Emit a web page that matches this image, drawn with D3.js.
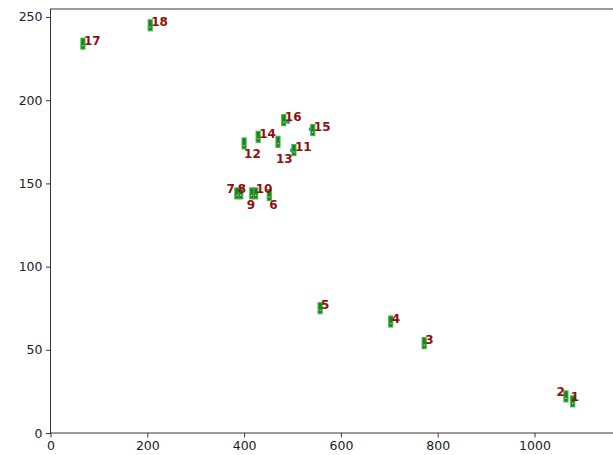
<!DOCTYPE html>
<html>
<head>
<meta charset="utf-8">
<script src="https://cdn.jsdelivr.net/npm/d3@7"></script>
<style>
  html, body { margin: 0; padding: 0; background: #fff; overflow: hidden; }
  svg { display: block; font-family: "DejaVu Sans", sans-serif; }
</style>
</head>
<body>
<svg id="chart" width="613" height="455"></svg>
<script>
// Point labels and their coordinates
const labels = ["1", "2", "3", "4", "5", "6", "7", "8", "9", "10", "11", "12", "13", "14", "15", "16", "17", "18"];
const xValues = [1079, 1065, 772, 703, 557, 452, 385, 393, 416, 424, 503, 400, 470, 429, 542, 482, 67, 206];
const yValues = [19, 22, 54, 67, 75, 143, 144, 144, 144, 144, 170, 174, 175, 178, 182, 188, 234, 245];

// Secondary points that peek out beside their boxes
const dotLabels = ["11", "15", "16"];
const dotX = [499, 538, 491];
const dotY = [170, 182.5, 187];

// Axis ticks
const xTicks = [0, 200, 400, 600, 800, 1000];
const yTicks = [0, 50, 100, 150, 200, 250];

// Label placement: [dx, dy, anchor] in pixels relative to each point
const labelPlacement = {
  "2": [-1, 0, "end"], "7": [-2, 0, "end"], "8": [-3, 0, "start"],
  "9": [-5, 16, "start"], "6": [0, 14, "start"], "10": [0, 0, "start"],
  "12": [0, 15, "start"], "13": [-2, 21, "start"], "1": [-2, 0, "start"]
};

const margin = { left: 50.5, top: 9, bottom: 433 };
const x = d3.scaleLinear().domain([0, 1200]).range([margin.left, margin.left + 1200 * 0.484]);
const y = d3.scaleLinear().domain([0, 254.8]).range([margin.bottom, margin.top]);

const svg = d3.select("#chart");

// Frame
svg.append("rect")
  .attr("x", margin.left).attr("y", margin.top)
  .attr("width", x(1200) - margin.left).attr("height", margin.bottom - margin.top)
  .attr("fill", "none").attr("stroke", "#222").attr("stroke-width", 0.9);

const xAxis = svg.append("g")
  .attr("transform", `translate(0,${margin.bottom})`)
  .call(d3.axisBottom(x).tickValues(xTicks).tickFormat(d3.format("d")).tickSizeOuter(0).tickSize(4.5).tickPadding(3.5));
const yAxis = svg.append("g")
  .attr("transform", `translate(${margin.left},0)`)
  .call(d3.axisLeft(y).tickValues(yTicks).tickFormat(d3.format("d")).tickSizeOuter(0).tickSize(4.5).tickPadding(3.5));
[xAxis, yAxis].forEach(g => {
  g.select(".domain").remove();
  g.selectAll(".tick line").attr("stroke", "#222").attr("stroke-width", 0.9);
  g.selectAll(".tick text").attr("fill", "#222").style("font-size", "12.5px").style("font-family", "DejaVu Sans, sans-serif");
});

const points = labels.map((l, i) => ({ label: l, x: xValues[i], y: yValues[i] }));
const dots = dotLabels.map((l, i) => ({ label: l, x: dotX[i], y: dotY[i] }));

// Blue points underneath
svg.append("g").selectAll("circle").data(dots).join("circle")
  .attr("cx", d => x(d.x)).attr("cy", d => y(d.y)).attr("r", 2.2)
  .attr("fill", "#1f77b4").attr("opacity", 0.85);

// Green boxes
const boxW = 4, boxH = 11;
const boxes = svg.append("g").selectAll("g").data(points).join("g")
  .attr("transform", d => `translate(${x(d.x)},${y(d.y)})`);
boxes.append("rect")
  .attr("x", -boxW / 2).attr("y", -boxH / 2).attr("width", boxW).attr("height", boxH)
  .attr("fill", "#1b7f1b").attr("stroke", "#3fb33f").attr("stroke-width", 1.1);
boxes.append("circle")
  .attr("cx", 0).attr("cy", 2).attr("r", 0.8).attr("fill", "#a8dca8");

// Labels
svg.append("g").selectAll("text").data(points).join("text")
  .attr("x", d => x(d.x) + (labelPlacement[d.label] ? labelPlacement[d.label][0] : 1))
  .attr("y", d => y(d.y) + (labelPlacement[d.label] ? labelPlacement[d.label][1] : 1))
  .attr("text-anchor", d => labelPlacement[d.label] ? labelPlacement[d.label][2] : "start")
  .attr("fill", "#8f1010")
  .style("font-size", "12px").style("font-weight", "bold")
  .text(d => d.label);
</script>
</body>
</html>
